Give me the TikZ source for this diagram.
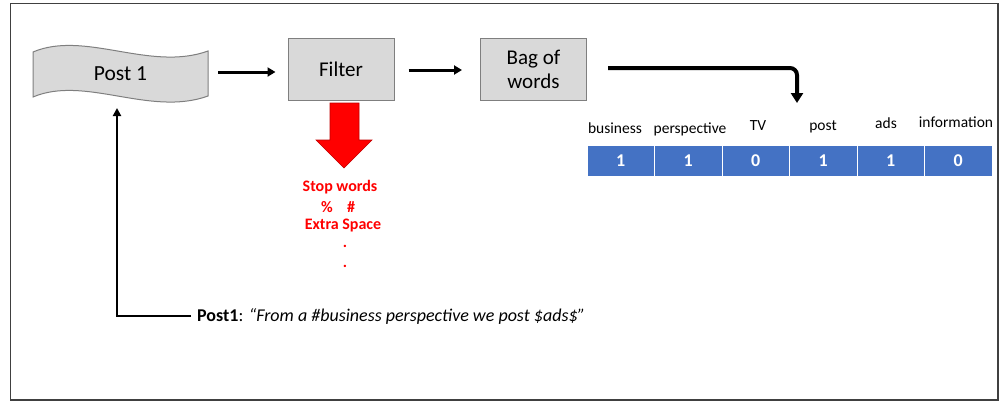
\documentclass[tikz,border=0pt]{standalone}
\usepackage{fontspec}
\setmainfont{Carlito}
\usetikzlibrary{arrows.meta}
\definecolor{boxgray}{HTML}{D9D9D9}
\definecolor{edgegray}{HTML}{7F7F7F}
\definecolor{cellblue}{HTML}{4472C4}
\definecolor{darkred}{HTML}{C00000}
\tikzset{
  procbox/.style={draw=edgegray, fill=boxgray, line width=1pt, minimum width=106pt,
    minimum height=62pt, align=center, font=\fontsize{21}{25}\selectfont, inner sep=0pt},
  flowarrow/.style={line width=3pt, -{Triangle[width=9pt,length=8pt]}},
  cell/.style={draw=white, fill=cellblue, line width=1pt, minimum width=67.5pt,
    minimum height=31pt, inner sep=0pt, text=white, font=\fontsize{18}{21}\selectfont\bfseries},
  headword/.style={anchor=base, font=\fontsize{15.5}{18}\selectfont, inner sep=0pt},
  stoptext/.style={text=red, font=\fontsize{16}{18}\selectfont\bfseries, inner sep=0pt}
}
\begin{document}
\begin{tikzpicture}[x=1pt,y=-1pt]
\useasboundingbox (0,0) rectangle (999,402);
% outer frame
\draw[draw=black!75, line width=1.3pt] (10.5,3.5) rectangle (998,400);

% wavy document holding the post
\draw[draw=edgegray, fill=boxgray, line width=1pt]
  (33,52) .. controls (85,30) and (150,72) .. (208,51)
  -- (208,96) .. controls (150,117) and (85,75) .. (33,97) -- cycle;
\node[inner sep=0pt, minimum width=175pt, minimum height=50pt,
  font=\fontsize{21.5}{25}\selectfont] (post) at (120.5,74) {Post 1};

% processing boxes
\node[procbox] (filter) at (341,69) {Filter};
\node[procbox] (bag) at (533.5,69) {Bag of\\[-1pt]words};

\draw[flowarrow] ([shift={(10,-2)}]post.east) -- ([shift={(-12,3)}]filter.west);
\draw[flowarrow] ([shift={(14,1)}]filter.east) -- ([shift={(-18,1)}]bag.west);

% vector of word counts
\foreach \i/\v in {1/1,2/1,3/0,4/1,5/1,6/0}{
  \node[cell] (c\i) at ({587+67.5*(\i-0.5)},161) {\v};
}
\node[headword] (h1) at (615,133) {business};
\node[headword] (h2) at (690,133) {perspective};
\node[headword] (h3) at (758,130) {TV};
\node[headword] (h4) at (823,130) {post};
\node[headword] (h5) at (886,128) {ads};
\node[headword] (h6) at (956,127) {information};

\coordinate (vectip) at (797,103);
\draw[line width=4pt, rounded corners=7pt, -{Triangle[width=12pt,length=10pt]}]
  ([shift={(21,-1)}]bag.east) -| (vectip);

% what the filter removes
\draw[fill=red, draw=darkred, line width=0.6pt]
  (330,103) -- (359,103) -- (359,140) -- (372,140) -- (344,168)
  -- (316,140) -- (330,140) -- cycle;
\node[stoptext] (s1) at (340,187) {Stop words};
\node[stoptext] (s2) at (327,207) {\%};
\node[stoptext] (s3) at (351,207) {\#};
\node[stoptext] (s4) at (343,226) {Extra Space};
\node[stoptext] (s5) at (345,246) {.};
\node[stoptext] (s6) at (345,266) {.};

% the raw post fed back into the document
\node[anchor=west, inner sep=0pt, font=\fontsize{18}{21}\selectfont] (sentence) at (197,316)
  {\textbf{Post1}: \textit{“From a \#business perspective we post \$ads\$”}};
\coordinate (fbtip) at (117,108);
\draw[line width=2pt, -{Triangle[width=8pt,length=8pt]}]
  ([xshift=-6pt]sentence.west) -| (fbtip);
\end{tikzpicture}
\end{document}
